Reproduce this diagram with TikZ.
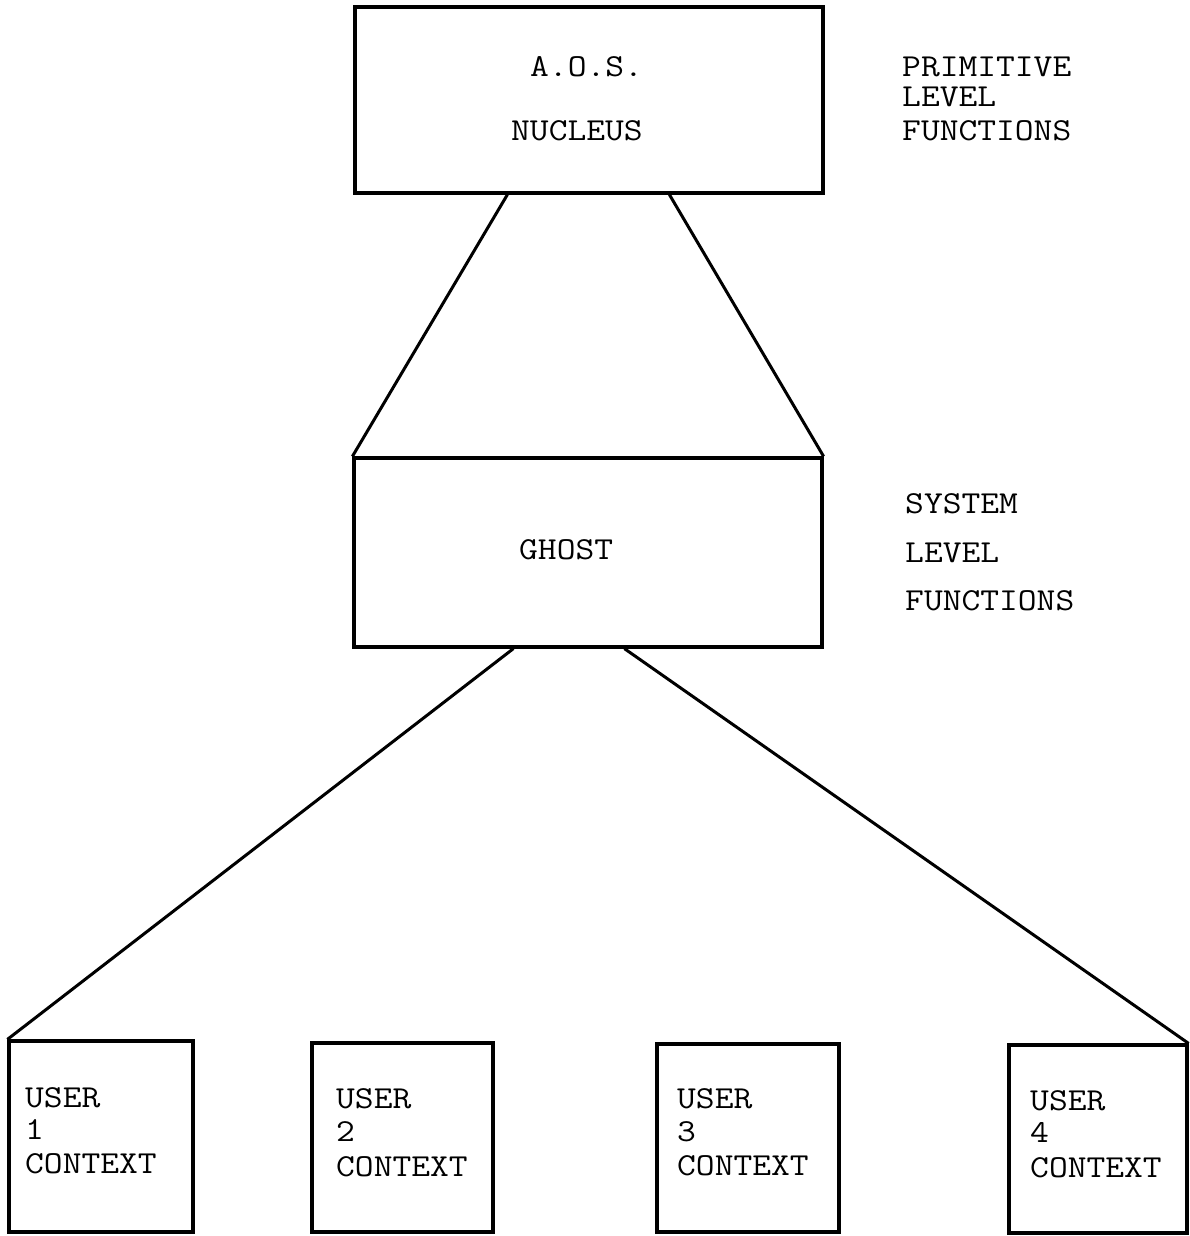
\documentclass[tikz,border=0pt]{standalone}
\usetikzlibrary{calc}
% typewriter lettering, widened to the pitch of the original typeface
\newcommand{\typed}[1]{\scalebox{1.14}[1]{#1}}
\begin{document}
\begin{tikzpicture}[x=1pt,y=-1pt,
  box/.style={draw, line width=3.2pt, rectangle, inner sep=0pt},
  link/.style={line width=3pt},
  lbl/.style={font=\fontsize{32}{32}\selectfont\ttfamily, inner sep=0pt, anchor=base west}]
\useasboundingbox (0,0) rectangle (1190,1236);

% boxes
\node[box, minimum width=468pt, minimum height=186pt] (aos) at (589,100) {};
\node[box, minimum width=468pt, minimum height=189pt] (ghost) at (588,552.5) {};
\node[box, minimum width=184pt, minimum height=191pt] (u1) at (101,1136.5) {};
\node[box, minimum width=181pt, minimum height=189pt] (u2) at (402.5,1137.5) {};
\node[box, minimum width=182pt, minimum height=188pt] (u3) at (748,1138) {};
\node[box, minimum width=178pt, minimum height=188pt] (u4) at (1098,1139) {};

% connectors
\draw[link] ([xshift=154pt]aos.south west) -- (ghost.north west);
\draw[link] ([xshift=316pt]aos.south west) -- (ghost.north east);
\draw[link] ([xshift=161pt]ghost.south west) -- (u1.north west);
\draw[link] ([xshift=272pt]ghost.south west) -- (u4.north east);

% box texts
\node[lbl] (aosA) at (530,77) {\typed{A.O.S.}};
\node[lbl] (aosB) at (511,140) {\typed{NUCLEUS}};
\node[lbl] (gh) at (519,559) {\typed{GHOST}};

\node[lbl] (u1a) at (25,1107) {\typed{USER}};
\node[lbl] (u1b) at (25,1139) {\typed{1}};
\node[lbl] (u1c) at (25,1173) {\typed{CONTEXT}};
\node[lbl] (u2a) at (336,1108) {\typed{USER}};
\node[lbl] (u2b) at (336,1141) {\typed{2}};
\node[lbl] (u2c) at (336,1176) {\typed{CONTEXT}};
\node[lbl] (u3a) at (677,1108) {\typed{USER}};
\node[lbl] (u3b) at (677,1141) {\typed{3}};
\node[lbl] (u3c) at (677,1175) {\typed{CONTEXT}};
\node[lbl] (u4a) at (1030,1110) {\typed{USER}};
\node[lbl] (u4b) at (1030,1142) {\typed{4}};
\node[lbl] (u4c) at (1030,1177) {\typed{CONTEXT}};

% side labels
\node[lbl] (p1) at (902,77) {\typed{PRIMITIVE}};
\node[lbl] (p2) at (902,107) {\typed{LEVEL}};
\node[lbl] (p3) at (902,140) {\typed{FUNCTIONS}};
\node[lbl] (s1) at (905,513) {\typed{SYSTEM}};
\node[lbl] (s2) at (905,562) {\typed{LEVEL}};
\node[lbl] (s3) at (905,610) {\typed{FUNCTIONS}};
\end{tikzpicture}
\end{document}
